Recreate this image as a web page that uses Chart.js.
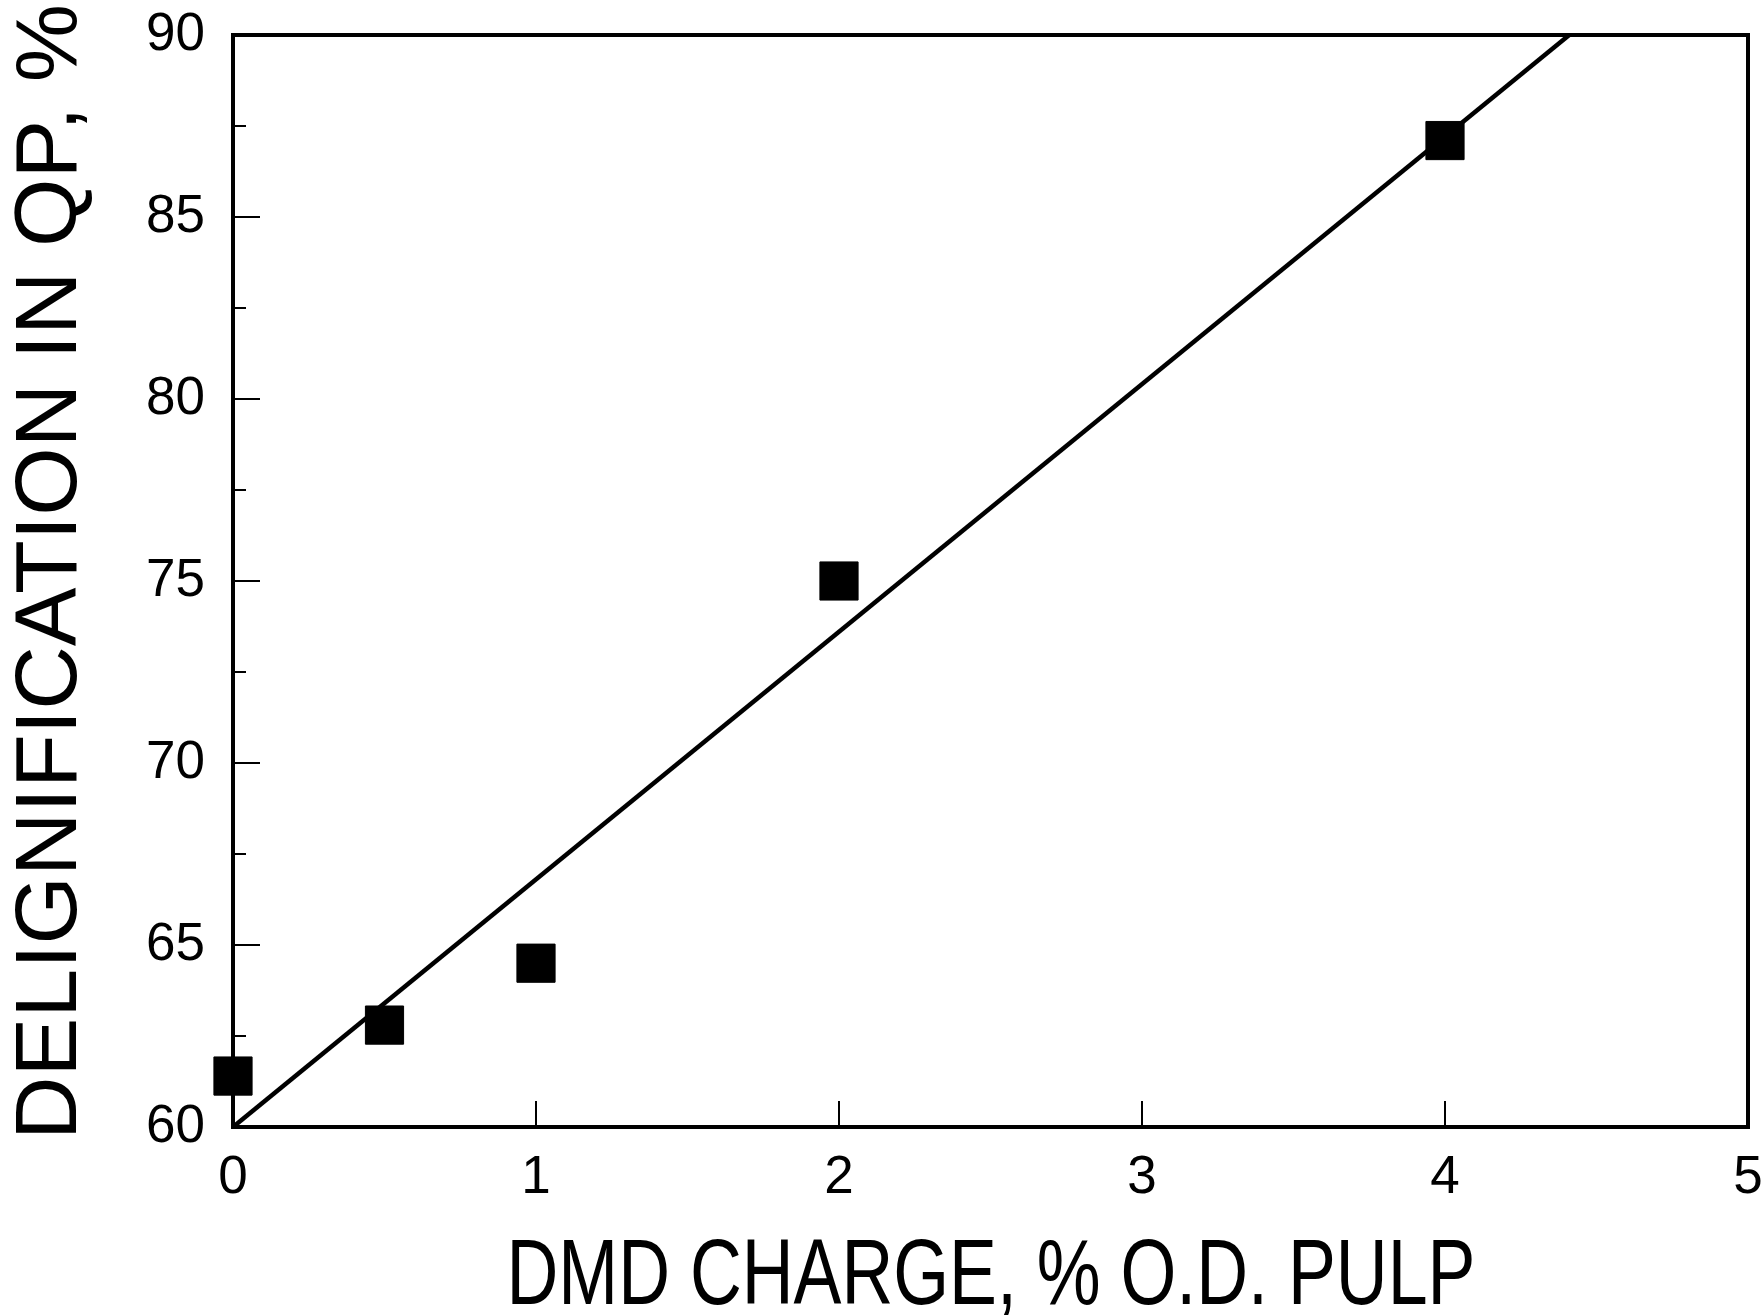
<!DOCTYPE html>
<html lang="en">
<head>
  <meta charset="UTF-8" />
  <title>Delignification vs DMD charge</title>
  <script src="https://cdn.jsdelivr.net/npm/chart.js"></script>
  <style>
    html, body { margin: 0; padding: 0; background: #fff; }
    #wrap { width: 1762px; height: 1315px; }
  </style>
</head>
<body>
  <div id="wrap"><canvas id="chart" width="1762" height="1315"></canvas></div>

  <script>
    // measured points
    const dmdCharge = [0, 0.5, 1, 2, 4];
    const delignification = [61.4, 62.8, 64.5, 75.0, 87.1];

    // fitted line end points
    const fitX = [0, 4.41];
    const fitY = [60, 90];

    // axis ticks
    const xTicks = [0, 1, 2, 3, 4, 5];
    const yTicks = [60, 65, 70, 75, 80, 85, 90];
    const yMinorTicks = [62.5, 67.5, 72.5, 77.5, 82.5, 87.5];

    const xTitle = 'DMD CHARGE, % O.D. PULP';
    const yTitle = 'DELIGNIFICATION IN QP, %';

    const fontFamily = '"Liberation Sans", Arial, sans-serif';

    // frame, inward ticks, x tick labels and axis titles
    const framePlugin = {
      id: 'frame',
      beforeDatasetsDraw(chart) {
        const { ctx, chartArea: a, scales: { x, y } } = chart;
        ctx.save();
        ctx.strokeStyle = '#000';
        ctx.lineWidth = 2;
        ctx.beginPath();
        xTicks.slice(1, -1).forEach(v => {
          const px = x.getPixelForValue(v);
          ctx.moveTo(px, a.bottom);
          ctx.lineTo(px, a.bottom - 26);
        });
        yTicks.slice(1, -1).forEach(v => {
          const py = y.getPixelForValue(v);
          ctx.moveTo(a.left, py);
          ctx.lineTo(a.left + 27, py);
        });
        yMinorTicks.forEach(v => {
          const py = y.getPixelForValue(v);
          ctx.moveTo(a.left, py);
          ctx.lineTo(a.left + 13, py);
        });
        ctx.stroke();
        ctx.lineWidth = 4;
        ctx.strokeRect(a.left, a.top, a.right - a.left, a.bottom - a.top);

        ctx.fillStyle = '#000';
        ctx.font = '53px ' + fontFamily;
        ctx.textAlign = 'center';
        ctx.textBaseline = 'alphabetic';
        xTicks.forEach(v => {
          ctx.fillText(String(v), x.getPixelForValue(v), a.bottom + 66);
        });
        ctx.restore();
      },
      afterDraw(chart) {
        const { ctx } = chart;
        ctx.save();
        ctx.fillStyle = '#000';
        ctx.textAlign = 'center';
        ctx.textBaseline = 'alphabetic';

        // x title, condensed
        ctx.font = '92px ' + fontFamily;
        ctx.translate(991, 1304);
        ctx.scale(0.78, 1);
        ctx.fillText(xTitle, 0, 0);
        ctx.setTransform(1, 0, 0, 1, 0, 0);

        // y title, rotated
        ctx.font = '88px ' + fontFamily;
        ctx.translate(76, 572);
        ctx.rotate(-Math.PI / 2);
        ctx.fillText(yTitle, 0, 0);
        ctx.restore();
      }
    };

    new Chart(document.getElementById('chart'), {
      type: 'scatter',
      data: {
        datasets: [
          {
            label: 'fit',
            type: 'line',
            data: fitX.map((v, i) => ({ x: v, y: fitY[i] })),
            borderColor: '#000',
            borderWidth: 4.5,
            pointRadius: 0,
            fill: false,
            clip: false
          },
          {
            label: 'measured',
            data: dmdCharge.map((v, i) => ({ x: v, y: delignification[i] })),
            pointStyle: 'rect',
            pointRadius: 27,
            pointBackgroundColor: '#000',
            pointBorderColor: '#000',
            pointBorderWidth: 1,
            clip: false
          }
        ]
      },
      options: {
        responsive: false,
        animation: false,
        layout: { autoPadding: false, padding: { left: 0, top: 35, right: 14, bottom: 0 } },
        plugins: { legend: { display: false }, tooltip: { enabled: false } },
        scales: {
          x: {
            type: 'linear',
            min: 0,
            max: 5,
            afterBuildTicks: s => { s.ticks = xTicks.map(v => ({ value: v })); },
            afterFit: s => { s.height = 188; s.paddingLeft = 0; s.paddingRight = 0; },
            grid: { display: false },
            border: { display: false },
            ticks: { display: false }
          },
          y: {
            type: 'linear',
            min: 60,
            max: 90,
            afterBuildTicks: s => { s.ticks = yTicks.map(v => ({ value: v })); },
            afterFit: s => { s.width = 233; s.paddingTop = 0; s.paddingBottom = 0; },
            grid: { display: false },
            border: { display: false },
            ticks: { color: '#000', padding: 20, font: { family: fontFamily, size: 53 } }
          }
        }
      },
      plugins: [framePlugin]
    });
  </script>
</body>
</html>
